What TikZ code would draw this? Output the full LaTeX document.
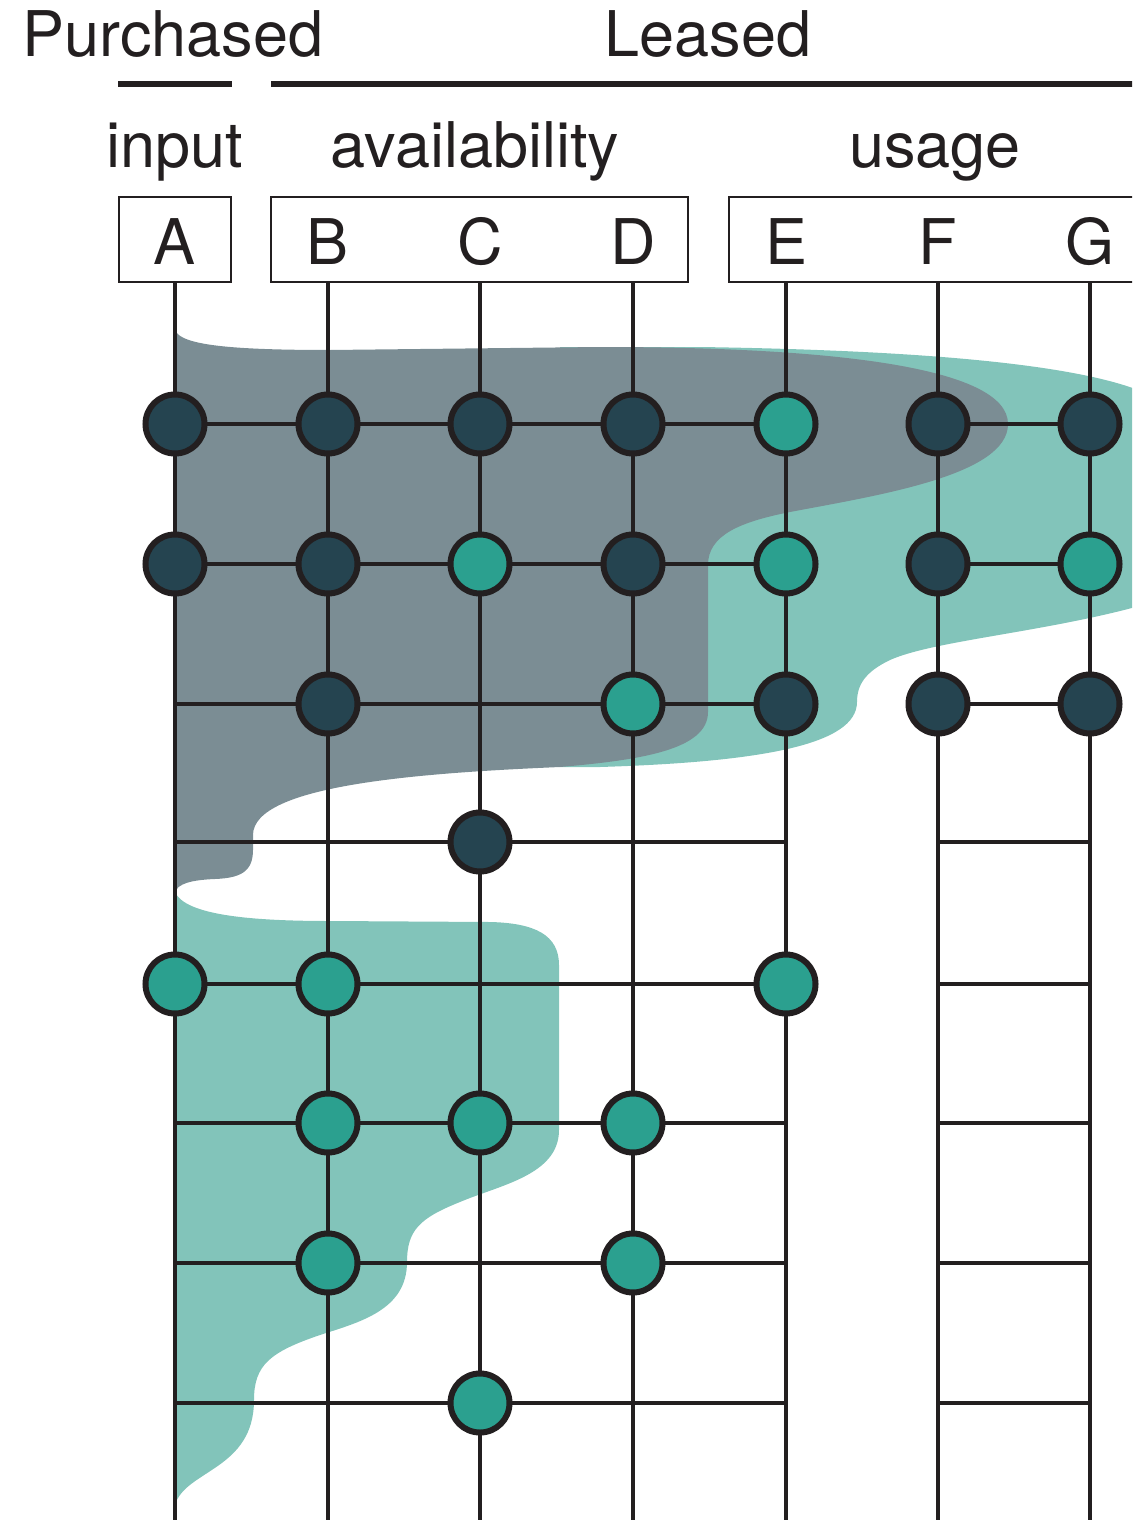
\documentclass[tikz,border=0pt]{standalone}
\usepackage{fontspec}
\setmainfont{TeX Gyre Heros}
\usepackage{tikz}
\definecolor{inkline}{RGB}{35,31,32}
\definecolor{slatedot}{RGB}{37,68,80}
\definecolor{tealdotc}{RGB}{43,160,143}
\definecolor{slatebg}{RGB}{123,141,148}
\definecolor{tealbg}{RGB}{130,196,186}

\begin{document}
\begin{tikzpicture}[
  x=0.5pt, y=-0.5pt,
  hdr/.style={font=\fontsize{31.5}{36}\selectfont, text=inkline, inner sep=0pt, anchor=base},
  colbox/.style={draw=inkline, line width=1.3pt},
  bar/.style={draw=inkline, line width=3pt},
  gridln/.style={draw=inkline, line width=1.6pt},
  darkdot/.style={circle, draw=inkline, line width=3pt, fill=slatedot,
                  minimum size=29.5pt, inner sep=0pt},
  tealdot/.style={darkdot, fill=tealdotc}
]
\clip (0,0) rectangle (1132,1520);

% ---- Column and row anchors ----
\coordinate (topA) at (175,282);  \coordinate (botA) at (175,1520);
\coordinate (topB) at (328,282);  \coordinate (botB) at (328,1520);
\coordinate (topC) at (480,282);  \coordinate (botC) at (480,1520);
\coordinate (topD) at (633,282);  \coordinate (botD) at (633,1520);
\coordinate (topE) at (786,282);  \coordinate (botE) at (786,1520);
\coordinate (topF) at (938,282);  \coordinate (botF) at (938,1520);
\coordinate (topG) at (1090,282); \coordinate (botG) at (1090,1520);
\coordinate (row1) at (175,424);
\coordinate (row2) at (175,564);
\coordinate (row3) at (175,704);
\coordinate (row4) at (175,842);
\coordinate (row5) at (175,984);
\coordinate (row6) at (175,1123);
\coordinate (row7) at (175,1263);
\coordinate (row8) at (175,1403);

% ---- Shaded regions ----
\fill[tealbg] (560,347) -- (700,347) .. controls (900,350) and (1080,362) .. (1150,395)
  -- (1150,603) .. controls (1050,632) and (935,640) .. (890,660)
  .. controls (865,672) and (857,685) .. (857,702)
  .. controls (857,745) and (760,762) .. (600,767) -- (560,767) -- cycle;
\fill[tealbg] (175,892) .. controls (185,915) and (250,921) .. (330,921) -- (490,922)
  .. controls (535,923) and (559,935) .. (559,965) -- (559,1130)
  .. controls (559,1175) and (500,1185) .. (460,1202)
  .. controls (420,1218) and (407,1230) .. (407,1262)
  .. controls (407,1310) and (360,1322) .. (320,1335)
  .. controls (270,1352) and (254,1365) .. (254,1400)
  .. controls (254,1470) and (185,1470) .. (175,1505) -- cycle;
\fill[slatebg] (175,330) .. controls (180,345) and (230,350) .. (330,350) -- (600,347)
  .. controls (820,347) and (1008,365) .. (1008,424)
  .. controls (1008,475) and (880,495) .. (790,512)
  .. controls (740,522) and (708,535) .. (708,565) -- (708,712)
  .. controls (708,750) and (640,760) .. (560,767)
  .. controls (420,773) and (253,785) .. (253,835) -- (253,850)
  .. controls (253,872) and (240,878) .. (215,879)
  .. controls (190,880) and (178,884) .. (175,892) -- cycle;

% ---- Grid ----
\draw[gridln] (topA) -- (botA);
\draw[gridln] (topB) -- (botB);
\draw[gridln] (topC) -- (botC);
\draw[gridln] (topD) -- (botD);
\draw[gridln] (topE) -- (botE);
\draw[gridln] (topF) -- (botF);
\draw[gridln] (topG) -- (botG);
\draw[gridln] (row1) -- (topE |- row1) (topF |- row1) -- (topG |- row1);
\draw[gridln] (row2) -- (topE |- row2) (topF |- row2) -- (topG |- row2);
\draw[gridln] (row3) -- (topE |- row3) (topF |- row3) -- (topG |- row3);
\draw[gridln] (row4) -- (topE |- row4) (topF |- row4) -- (topG |- row4);
\draw[gridln] (row5) -- (topE |- row5) (topF |- row5) -- (topG |- row5);
\draw[gridln] (row6) -- (topE |- row6) (topF |- row6) -- (topG |- row6);
\draw[gridln] (row7) -- (topE |- row7) (topF |- row7) -- (topG |- row7);
\draw[gridln] (row8) -- (topE |- row8) (topF |- row8) -- (topG |- row8);

% ---- Dots ----
\node[darkdot] (a1) at (topA |- row1) {};
\node[darkdot] (b1) at (topB |- row1) {};
\node[darkdot] (c1) at (topC |- row1) {};
\node[darkdot] (d1) at (topD |- row1) {};
\node[tealdot] (e1) at (topE |- row1) {};
\node[darkdot] (f1) at (topF |- row1) {};
\node[darkdot] (g1) at (topG |- row1) {};

\node[darkdot] (a2) at (topA |- row2) {};
\node[darkdot] (b2) at (topB |- row2) {};
\node[tealdot] (c2) at (topC |- row2) {};
\node[darkdot] (d2) at (topD |- row2) {};
\node[tealdot] (e2) at (topE |- row2) {};
\node[darkdot] (f2) at (topF |- row2) {};
\node[tealdot] (g2) at (topG |- row2) {};

\node[darkdot] (b3) at (topB |- row3) {};
\node[tealdot] (d3) at (topD |- row3) {};
\node[darkdot] (e3) at (topE |- row3) {};
\node[darkdot] (f3) at (topF |- row3) {};
\node[darkdot] (g3) at (topG |- row3) {};

\node[darkdot] (c4) at (topC |- row4) {};

\node[tealdot] (a5) at (topA |- row5) {};
\node[tealdot] (b5) at (topB |- row5) {};
\node[tealdot] (e5) at (topE |- row5) {};

\node[tealdot] (b6) at (topB |- row6) {};
\node[tealdot] (c6) at (topC |- row6) {};
\node[tealdot] (d6) at (topD |- row6) {};

\node[tealdot] (b7) at (topB |- row7) {};
\node[tealdot] (d7) at (topD |- row7) {};

\node[tealdot] (c8) at (topC |- row8) {};

% ---- Header ----
\node[hdr] (purchased) at (173,57) {Purchased};
\node[hdr] (leased) at (708,57) {Leased};
\draw[bar] (118,84) -- (232,84);
\draw[bar] (271,84) -- (1140,84);

\node[hdr] (input) at (175,167) {input};
\node[hdr] (avail) at (475,167) {availability};
\node[hdr] (usage) at (935,167) {usage};

\draw[colbox] (119,197) rectangle (231,282);
\draw[colbox] (271,197) rectangle (688,282);
\draw[colbox] (729,197) rectangle (1140,282);
\node[hdr] (A) at (175,264) {A};
\node[hdr] (B) at (328,264) {B};
\node[hdr] (C) at (480,264) {C};
\node[hdr] (D) at (633,264) {D};
\node[hdr] (E) at (786,264) {E};
\node[hdr] (F) at (938,264) {F};
\node[hdr] (G) at (1090,264) {G};

\end{tikzpicture}
\end{document}
